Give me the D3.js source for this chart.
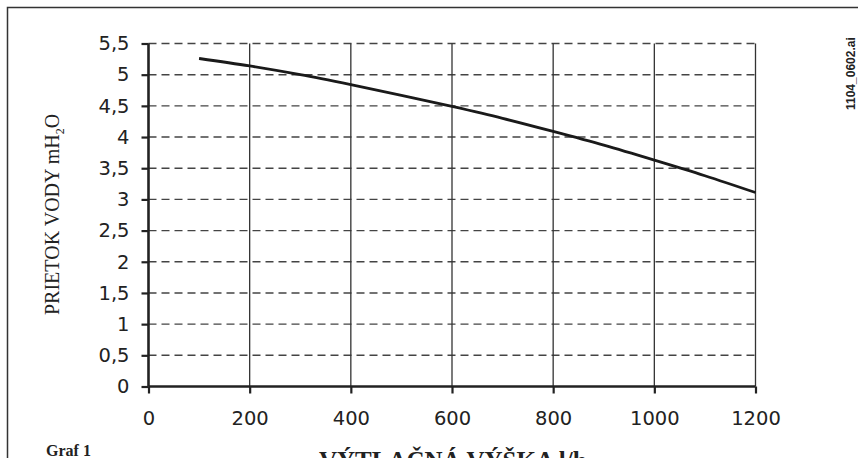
<!DOCTYPE html>
<html><head><meta charset="utf-8">
<script src="https://cdn.jsdelivr.net/npm/d3@7"></script>
<style>body{margin:0;background:#fff}svg{display:block}</style>
</head><body>
<svg id="c" width="858" height="458"></svg>
<script>
const flow = [100,200,300,400,500,600,700,800,900,1000,1100,1200];
const head = [5.26,5.14,5.0,4.84,4.67,4.49,4.30,4.09,3.87,3.63,3.38,3.11];
const xTicks = [0,200,400,600,800,1000,1200];
const yTicks = [0,0.5,1,1.5,2,2.5,3,3.5,4,4.5,5,5.5];
const yTitle = "PRIETOK VODY mH";
const xTitle = "VÝTLAČNÁ VÝŠKA l/h";
const caption = "Graf 1";
const fileTag = "1104_0602.ai";

const serif = "'Liberation Serif','Times New Roman',Times,serif";
const svg = d3.select("#c");
const x = d3.scaleLinear().domain([0,1200]).range([148.5,755.5]);
const y = d3.scaleLinear().domain([0,5.5]).range([386.5,43.5]);
const fmt = d => String(d).replace(".", ",");

// outer frame
svg.append("path").attr("d","M7.5,470 V7.5 H870").attr("fill","none").attr("stroke","#333").attr("stroke-width",1.5);

// horizontal dashed grid
svg.append("g").selectAll("line").data(yTicks.filter(d=>d>0)).join("line")
  .attr("x1",x(0)).attr("x2",x(1200)).attr("y1",d=>y(d)).attr("y2",d=>y(d))
  .attr("stroke","#444").attr("stroke-width",1.4).attr("stroke-dasharray","8,5");
// vertical solid grid
svg.append("g").selectAll("line").data(xTicks.filter(d=>d>0)).join("line")
  .attr("x1",d=>x(d)).attr("x2",d=>x(d)).attr("y1",y(5.5)).attr("y2",y(0))
  .attr("stroke","#333").attr("stroke-width",1.3);

// axes
const yAxis = svg.append("g").attr("transform",`translate(${x(0)},0)`)
  .call(d3.axisLeft(y).tickValues(yTicks).tickFormat(fmt).tickSize(7).tickPadding(12));
const xAxis = svg.append("g").attr("transform",`translate(0,${y(0)})`)
  .call(d3.axisBottom(x).tickValues(xTicks).tickFormat(d=>String(d)).tickSize(7).tickPadding(18));
[yAxis,xAxis].forEach(a=>{
  a.select(".domain").attr("stroke","#222").attr("stroke-width",2.6);
  a.selectAll(".tick line").attr("stroke","#222").attr("stroke-width",2.2);
  a.selectAll(".tick text").attr("fill","#222").style("font-family","DejaVu Sans").style("font-size","19.5px");
});
yAxis.select(".domain").attr("d",`M0,${y(0)}V${y(5.5)}`);
xAxis.select(".domain").attr("d",`M${x(0)},0H${x(1200)}`);

// curve
svg.append("path").datum(flow.map((f,i)=>[f,head[i]]))
  .attr("d", d3.line().x(d=>x(d[0])).y(d=>y(d[1])).curve(d3.curveMonotoneX))
  .attr("fill","none").attr("stroke","#1a1a1a").attr("stroke-width",2.8);

// y title
const yt = svg.append("text").attr("transform","translate(59,315) rotate(-90)")
  .attr("font-family",serif).attr("font-size",20).attr("fill","#222");
yt.append("tspan").attr("font-family",serif).text(yTitle);
yt.append("tspan").attr("font-family",serif).attr("dy",5).attr("font-size",12).text("2");
yt.append("tspan").attr("font-family",serif).attr("dy",-5).text("O");

// x title
svg.append("text").attr("x",319).attr("y",469)
  .attr("font-family",serif).attr("font-weight","bold").attr("font-size",25)
  .attr("fill","#222").text(xTitle);

// caption
svg.append("text").attr("x",46).attr("y",456)
  .attr("font-family",serif).attr("font-weight","bold").attr("font-size",16)
  .attr("fill","#222").text(caption);

// file tag
svg.append("text").attr("transform","translate(854.5,110) rotate(-90)")
  .attr("font-family","'Liberation Sans',Arial,sans-serif").attr("font-weight","bold").attr("font-size",12)
  .attr("fill","#222").text(fileTag);
</script>
</body></html>
